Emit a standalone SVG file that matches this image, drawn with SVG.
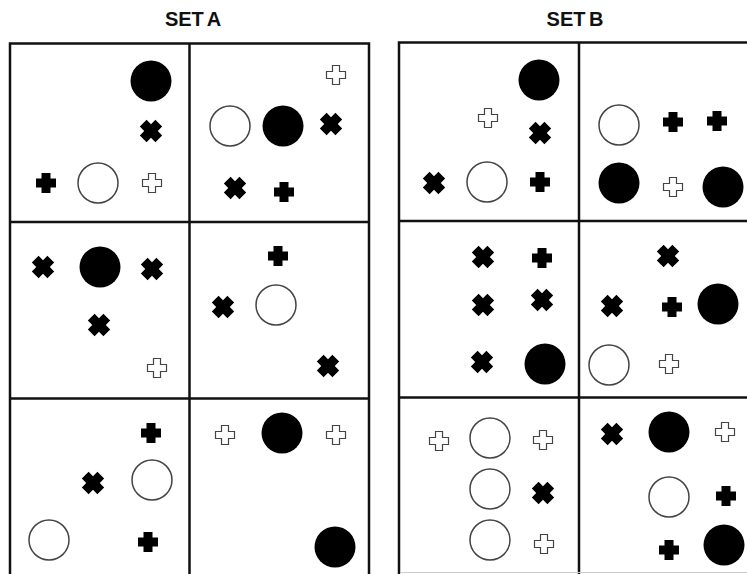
<svg xmlns="http://www.w3.org/2000/svg" xmlns:xlink="http://www.w3.org/1999/xlink" width="747" height="574" viewBox="0 0 747 574">
<style>
.t{font-family:"Liberation Sans",Arial,sans-serif;font-weight:bold;font-size:20px;fill:#111;text-anchor:middle;word-spacing:-2px}
.box{fill:none;stroke:#111;stroke-width:2.5}
.bc{fill:#000}
.oc{fill:#fff;stroke:#444;stroke-width:1.5}
.op{fill:#fff;stroke:#444;stroke-width:1.2}
.bp{fill:#000}
</style>
<defs>
<path id="p" d="M-4.5,-10H4.5V-4.5H10V4.5H4.5V10H-4.5V4.5H-10V-4.5H-4.5Z"/>
<path id="o" d="M-3.5,-9.5H3.5V-3.5H9.5V3.5H3.5V9.5H-3.5V3.5H-9.5V-3.5H-3.5Z"/>
<g id="x" transform="rotate(45)"><path d="M-4.8,-11H4.8V-4.8H11V4.8H4.8V11H-4.8V4.8H-11V-4.8H-4.8Z"/></g>
</defs>
<rect width="747" height="574" fill="#fff"/>
<text class="t" x="193" y="26">SET A</text>
<text class="t" x="575" y="26">SET B</text>
<g id="gridA"><path class="box" d="M10,574V43.5H369V574M189.5,43.5V574M10,222H369M10,398.5H369"/></g>
<g id="gridB"><path class="box" d="M399,574V42.5H749M579,42.5V574M399,221H749M399,397.5H749"/>
<path d="M400,572.5H747" stroke="#ccc" stroke-width="1"/></g>

<g id="A1">
<circle class="bc" cx="151" cy="81" r="20.5"/>
<use href="#x" x="151" y="131" class="bp"/>
<use href="#p" x="46" y="183" class="bp"/>
<circle class="oc" cx="98" cy="183" r="20"/>
<use href="#o" x="152" y="183" class="op"/>
</g>
<g id="A2">
<use href="#o" x="336" y="75" class="op"/>
<circle class="oc" cx="230" cy="126" r="20"/>
<circle class="bc" cx="283" cy="126" r="20.5"/>
<use href="#x" x="331" y="124" class="bp"/>
<use href="#x" x="235" y="188" class="bp"/>
<use href="#p" x="284" y="192" class="bp"/>
</g>
<g id="A3">
<use href="#x" x="43" y="267" class="bp"/>
<circle class="bc" cx="100" cy="267" r="20.5"/>
<use href="#x" x="152" y="269" class="bp"/>
<use href="#x" x="99" y="325" class="bp"/>
<use href="#o" x="157" y="368" class="op"/>
</g>
<g id="A4">
<use href="#p" x="278" y="256" class="bp"/>
<use href="#x" x="223" y="307" class="bp"/>
<circle class="oc" cx="276" cy="305" r="20"/>
<use href="#x" x="328" y="366" class="bp"/>
</g>
<g id="A5">
<use href="#p" x="151" y="433" class="bp"/>
<use href="#x" x="93" y="483" class="bp"/>
<circle class="oc" cx="152" cy="480" r="20"/>
<circle class="oc" cx="49" cy="540" r="20"/>
<use href="#p" x="148" y="542" class="bp"/>
</g>
<g id="A6">
<use href="#o" x="225" y="435" class="op"/>
<circle class="bc" cx="282" cy="433" r="20.5"/>
<use href="#o" x="336" y="435" class="op"/>
<circle class="bc" cx="335" cy="547" r="20.5"/>
</g>
<g id="B1">
<circle class="bc" cx="539" cy="80" r="20.5"/>
<use href="#o" x="488" y="118" class="op"/>
<use href="#x" x="540" y="133" class="bp"/>
<use href="#x" x="434" y="183" class="bp"/>
<circle class="oc" cx="487" cy="182" r="20"/>
<use href="#p" x="540" y="182" class="bp"/>
</g>
<g id="B2">
<circle class="oc" cx="619" cy="125" r="20"/>
<use href="#p" x="673" y="122" class="bp"/>
<use href="#p" x="717" y="121" class="bp"/>
<circle class="bc" cx="619" cy="183" r="20.5"/>
<use href="#o" x="673" y="187" class="op"/>
<circle class="bc" cx="723" cy="187" r="20.5"/>
</g>
<g id="B3">
<use href="#x" x="483" y="257" class="bp"/>
<use href="#p" x="542" y="258" class="bp"/>
<use href="#x" x="483" y="305" class="bp"/>
<use href="#x" x="542" y="300" class="bp"/>
<use href="#x" x="482" y="362" class="bp"/>
<circle class="bc" cx="545" cy="364" r="20.5"/>
</g>
<g id="B4">
<use href="#x" x="668" y="256" class="bp"/>
<use href="#x" x="612" y="306" class="bp"/>
<use href="#p" x="672" y="307" class="bp"/>
<circle class="bc" cx="718" cy="304" r="20.5"/>
<circle class="oc" cx="609" cy="365" r="20"/>
<use href="#o" x="669" y="364" class="op"/>
</g>
<g id="B5">
<use href="#o" x="439" y="441" class="op"/>
<circle class="oc" cx="490" cy="438" r="20"/>
<use href="#o" x="543" y="440" class="op"/>
<circle class="oc" cx="490" cy="489" r="20"/>
<use href="#x" x="543" y="493" class="bp"/>
<circle class="oc" cx="490" cy="540" r="20"/>
<use href="#o" x="544" y="544" class="op"/>
</g>
<g id="B6">
<use href="#x" x="612" y="434" class="bp"/>
<circle class="bc" cx="669" cy="432" r="20.5"/>
<use href="#o" x="725" y="432" class="op"/>
<circle class="oc" cx="669" cy="497" r="20"/>
<use href="#p" x="726" y="496" class="bp"/>
<use href="#p" x="669" y="550" class="bp"/>
<circle class="bc" cx="724" cy="545" r="20.5"/>
</g>
</svg>
